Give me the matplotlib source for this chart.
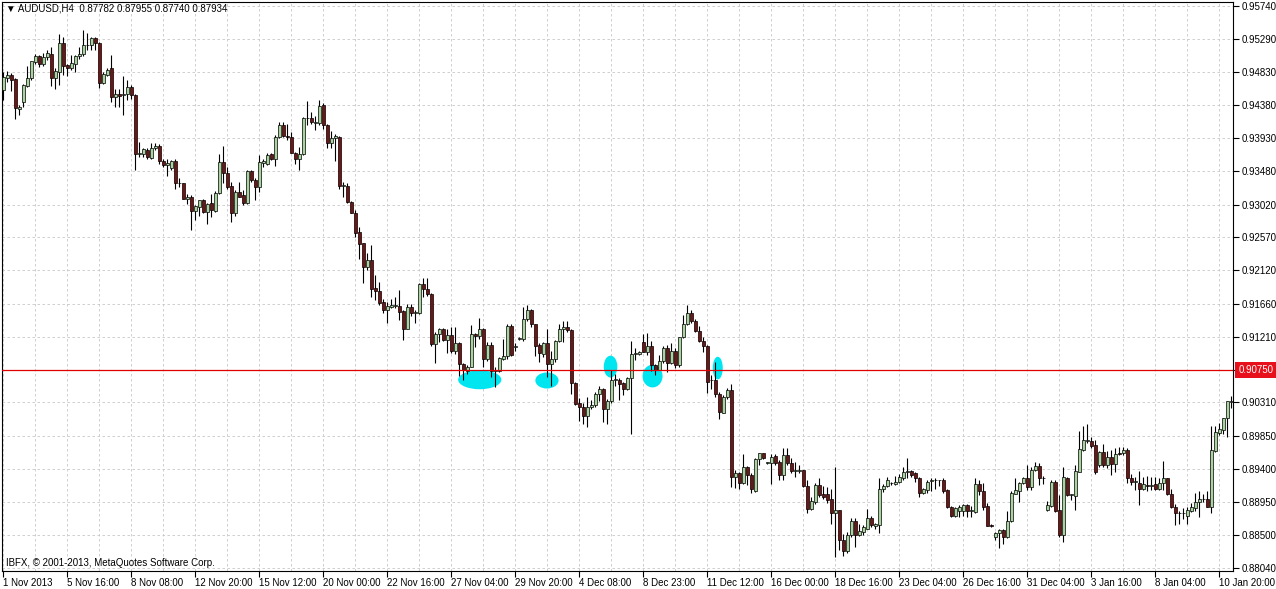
import matplotlib
matplotlib.use("Agg")
import matplotlib.pyplot as plt
from matplotlib.patches import Ellipse
from matplotlib.transforms import blended_transform_factory
import numpy as np

plt.rcParams['font.family'] = ['Liberation Sans', 'DejaVu Sans']

# AUDUSD H4 bars (one value per 4h bar)
opens = [
    .9459, .9476, .9479, .9474, .9433, .9443, .9464, .9476, .9497, .9505,
    .9494, .9504, .9508, .9476, .9483, .9524, .9493, .9489, .9495, .9505,
    .9508, .9520, .9521, .9530, .9523, .9469, .9479, .9489, .9449, .9453,
    .9452, .9453, .9463, .9452, .9371, .9371, .9377, .9366, .9379, .9382,
    .9361, .9356, .9352, .9362, .9331, .9332, .9310, .9313, .9293, .9299,
    .9308, .9292, .9304, .9293, .9318, .9360, .9345, .9327, .9291, .9319,
    .9315, .9304, .9348, .9336, .9326, .9359, .9358, .9371, .9365, .9395,
    .9411, .9396, .9395, .9373, .9364, .9371, .9420, .9420, .9414, .9414,
    .9438, .9411, .9387, .9393, .9395, .9327, .9327, .9306, .9291, .9265,
    .9249, .9216, .9226, .9188, .9184, .9169, .9158, .9162, .9163, .9163,
    .9156, .9132, .9162, .9153, .9154, .9193, .9187, .9180, .9111, .9124,
    .9132, .9117, .9123, .9102, .9113, .9083, .9074, .9080, .9124, .9122,
    .9132, .9090, .9109, .9074, .9074, .9091, .9094, .9135, .9107, .9118,
    .9118, .9145, .9157, .9138, .9109, .9097, .9112, .9083, .9090, .9115,
    .9131, .9134, .9130, .9058, .9030, .9024, .9013, .9024, .9028, .9042,
    .9050, .9022, .9033, .9062, .9062, .9057, .9049, .9065, .9097, .9097,
    .9114, .9100, .9108, .9082, .9076, .9088, .9105, .9085, .9102, .9082,
    .9120, .9138, .9153, .9143, .9129, .9115, .9108, .9061, .9062, .9043,
    .9017, .9039, .9048, .8929, .8934, .8920, .8942, .8931, .8910, .8953,
    .8961, .8948, .8948, .8957, .8950, .8931, .8959, .8948, .8937, .8937,
    .8938, .8916, .8885, .8895, .8918, .8906, .8905, .8899, .8879, .8883,
    .8842, .8828, .8849, .8869, .8849, .8854, .8858, .8873, .8861, .8863,
    .8912, .8916, .8920, .8919, .8922, .8928, .8936, .8937, .8934, .8928,
    .8907, .8911, .8923, .8924, .8925, .8924, .8911, .8888, .8876, .8882,
    .8882, .8890, .8882, .8881, .8919, .8909, .8889, .8863, .8847, .8852,
    .8856, .8847, .8869, .8906, .8910, .8920, .8928, .8915, .8939, .8944,
    .8928, .8883, .8889, .8922, .8883, .8850, .8928, .8904, .8903, .8936,
    .8966, .8978, .8978, .8973, .8945, .8963, .8945, .8956, .8947, .8961,
    .8961, .8966, .8927, .8922, .8920, .8913, .8918, .8917, .8919, .8912,
    .8921, .8927, .8905, .8887, .8880, .8879, .8876, .8882, .8886, .8894,
    .8898, .8899, .8888, .8965, .8989, .8993, .9009, .9032,
]
highs = [
    .9484, .9485, .9482, .9475, .9438, .9467, .9492, .9499, .9508, .9507,
    .9510, .9514, .9518, .9489, .9535, .9532, .9495, .9507, .9507, .9518,
    .9541, .9537, .9531, .9531, .9525, .9484, .9489, .9507, .9460, .9460,
    .9478, .9473, .9466, .9453, .9388, .9379, .9379, .9387, .9387, .9385,
    .9364, .9364, .9363, .9364, .9338, .9332, .9316, .9315, .9302, .9308,
    .9310, .9304, .9316, .9320, .9371, .9382, .9354, .9333, .9322, .9333,
    .9322, .9349, .9349, .9338, .9370, .9364, .9372, .9373, .9397, .9415,
    .9415, .9413, .9402, .9374, .9381, .9422, .9444, .9429, .9424, .9445,
    .9441, .9413, .9403, .9399, .9396, .9333, .9331, .9307, .9294, .9271,
    .9250, .9235, .9246, .9205, .9196, .9173, .9169, .9173, .9176, .9185,
    .9157, .9166, .9166, .9158, .9195, .9201, .9202, .9181, .9128, .9133,
    .9133, .9132, .9134, .9134, .9114, .9085, .9082, .9137, .9126, .9147,
    .9133, .9114, .9114, .9080, .9093, .9118, .9138, .9138, .9112, .9120,
    .9162, .9165, .9159, .9139, .9112, .9114, .9132, .9102, .9117, .9139,
    .9143, .9143, .9131, .9059, .9037, .9030, .9038, .9034, .9045, .9053,
    .9051, .9036, .9075, .9070, .9064, .9059, .9066, .9115, .9105, .9102,
    .9125, .9126, .9115, .9084, .9096, .9108, .9110, .9112, .9105, .9121,
    .9151, .9164, .9158, .9145, .9135, .9121, .9110, .9068, .9087, .9045,
    .9041, .9051, .9056, .8939, .8936, .8960, .8944, .8934, .8955, .8962,
    .8962, .8950, .8960, .8960, .8952, .8968, .8968, .8955, .8950, .8945,
    .8939, .8924, .8901, .8920, .8927, .8916, .8915, .8913, .8942, .8884,
    .8851, .8854, .8872, .8872, .8865, .8863, .8885, .8875, .8866, .8928,
    .8919, .8929, .8922, .8930, .8933, .8943, .8955, .8939, .8936, .8929,
    .8914, .8924, .8927, .8927, .8925, .8927, .8912, .8889, .8888, .8890,
    .8892, .8892, .8889, .8927, .8924, .8920, .8893, .8865, .8854, .8858,
    .8858, .8882, .8909, .8927, .8922, .8929, .8945, .8942, .8950, .8948,
    .8930, .8896, .8924, .8924, .8904, .8942, .8929, .8906, .8945, .8992,
    .8998, .9002, .8983, .8980, .8965, .8974, .8965, .8966, .8968, .8970,
    .8970, .8968, .8933, .8929, .8937, .8929, .8930, .8929, .8929, .8928,
    .8951, .8928, .8913, .8892, .8882, .8886, .8888, .8893, .8907, .8909,
    .8906, .8909, .8998, .8998, .9003, .9010, .9033, .9040,
]
lows = [
    .9445, .9470, .9457, .9419, .9425, .9435, .9463, .9473, .9494, .9491,
    .9492, .9500, .9464, .9460, .9466, .9479, .9478, .9486, .9483, .9502,
    .9505, .9514, .9514, .9514, .9462, .9467, .9478, .9443, .9436, .9435,
    .9425, .9445, .9446, .9349, .9367, .9367, .9365, .9365, .9377, .9358,
    .9354, .9341, .9349, .9323, .9326, .9309, .9303, .9267, .9281, .9287,
    .9290, .9276, .9285, .9292, .9317, .9332, .9324, .9278, .9286, .9312,
    .9302, .9303, .9333, .9308, .9319, .9354, .9356, .9363, .9355, .9393,
    .9394, .9390, .9372, .9358, .9349, .9370, .9411, .9413, .9404, .9411,
    .9406, .9379, .9379, .9362, .9324, .9313, .9304, .9290, .9258, .9228,
    .9195, .9212, .9176, .9171, .9164, .9153, .9140, .9160, .9160, .9144,
    .9117, .9131, .9149, .9140, .9152, .9176, .9177, .9108, .9085, .9114,
    .9115, .9099, .9098, .9097, .9067, .9062, .9070, .9079, .9107, .9118,
    .9080, .9088, .9066, .9052, .9073, .9089, .9091, .9094, .9102, .9116,
    .9115, .9143, .9134, .9094, .9086, .9093, .9066, .9054, .9086, .9114,
    .9114, .9128, .9043, .9028, .9006, .9002, .8997, .9022, .9024, .9033,
    .9004, .9002, .9030, .9054, .9034, .9041, .9048, .8988, .9089, .9096,
    .9100, .9096, .9074, .9068, .9075, .9085, .9073, .9083, .9078, .9080,
    .9119, .9137, .9140, .9128, .9114, .9100, .9044, .9050, .9039, .9008,
    .9016, .9036, .8915, .8914, .8912, .8919, .8918, .8907, .8908, .8945,
    .8954, .8946, .8919, .8945, .8925, .8925, .8945, .8934, .8929, .8934,
    .8915, .8880, .8883, .8892, .8901, .8899, .8893, .8865, .8819, .8829,
    .8820, .8825, .8846, .8833, .8848, .8850, .8857, .8860, .8858, .8852,
    .8908, .8915, .8918, .8918, .8920, .8925, .8928, .8929, .8922, .8902,
    .8905, .8907, .8909, .8913, .8916, .8907, .8886, .8874, .8874, .8874,
    .8876, .8874, .8874, .8880, .8904, .8883, .8861, .8860, .8843, .8831,
    .8837, .8845, .8867, .8906, .8895, .8919, .8911, .8911, .8937, .8918,
    .8919, .8882, .8888, .8881, .8847, .8840, .8903, .8897, .8883, .8935,
    .8965, .8976, .8968, .8933, .8942, .8942, .8941, .8931, .8936, .8959,
    .8959, .8921, .8918, .8911, .8890, .8911, .8909, .8911, .8911, .8911,
    .8911, .8904, .8886, .8863, .8865, .8871, .8864, .8881, .8882, .8874,
    .8895, .8887, .8879, .8963, .8986, .8988, .8984, .9023,
]
closes = [
    .9477, .9479, .9473, .9434, .9435, .9466, .9476, .9498, .9505, .9494,
    .9504, .9509, .9476, .9485, .9524, .9492, .9489, .9496, .9505, .9508,
    .9521, .9521, .9530, .9523, .9469, .9481, .9487, .9449, .9454, .9451,
    .9453, .9463, .9452, .9371, .9373, .9378, .9367, .9379, .9382, .9361,
    .9356, .9359, .9361, .9331, .9332, .9310, .9312, .9293, .9300, .9308,
    .9292, .9303, .9294, .9318, .9360, .9345, .9326, .9291, .9319, .9313,
    .9304, .9348, .9335, .9326, .9360, .9361, .9370, .9365, .9395, .9411,
    .9396, .9394, .9373, .9364, .9371, .9420, .9421, .9415, .9415, .9437,
    .9411, .9387, .9393, .9396, .9327, .9329, .9306, .9291, .9263, .9248,
    .9216, .9226, .9187, .9184, .9167, .9158, .9163, .9164, .9164, .9155,
    .9132, .9161, .9154, .9155, .9193, .9187, .9180, .9111, .9124, .9132,
    .9117, .9123, .9102, .9113, .9083, .9075, .9080, .9124, .9122, .9132,
    .9090, .9109, .9074, .9075, .9092, .9094, .9135, .9096, .9108, .9119,
    .9145, .9157, .9138, .9108, .9098, .9112, .9083, .9090, .9115, .9131,
    .9134, .9130, .9058, .9029, .9024, .9013, .9024, .9028, .9042, .9050,
    .9022, .9033, .9062, .9063, .9056, .9049, .9065, .9097, .9098, .9100,
    .9100, .9108, .9082, .9075, .9088, .9105, .9085, .9102, .9082, .9120,
    .9138, .9153, .9143, .9129, .9115, .9108, .9059, .9062, .9042, .9018,
    .9039, .9048, .8929, .8934, .8920, .8942, .8931, .8912, .8953, .8961,
    .8955, .8949, .8956, .8948, .8931, .8959, .8948, .8937, .8938, .8938,
    .8916, .8885, .8896, .8918, .8904, .8902, .8897, .8879, .8883, .8842,
    .8828, .8849, .8869, .8849, .8855, .8860, .8873, .8863, .8864, .8912,
    .8916, .8924, .8921, .8922, .8929, .8936, .8937, .8931, .8928, .8907,
    .8912, .8922, .8924, .8925, .8924, .8909, .8887, .8876, .8886, .8888,
    .8890, .8882, .8883, .8919, .8909, .8888, .8862, .8862, .8852, .8856,
    .8847, .8869, .8907, .8911, .8920, .8928, .8915, .8939, .8944, .8928,
    .8927, .8890, .8922, .8882, .8850, .8929, .8904, .8905, .8937, .8967,
    .8979, .8979, .8971, .8936, .8963, .8945, .8956, .8947, .8960, .8960,
    .8966, .8927, .8922, .8923, .8913, .8919, .8917, .8918, .8913, .8921,
    .8927, .8905, .8887, .8880, .8879, .8880, .8884, .8887, .8895, .8898,
    .8899, .8888, .8966, .8991, .8994, .9009, .9033, .9033,
]

date_labels = ["1 Nov 2013", "5 Nov 16:00", "8 Nov 08:00", "12 Nov 20:00",
               "15 Nov 12:00", "20 Nov 00:00", "22 Nov 16:00", "27 Nov 04:00",
               "29 Nov 20:00", "4 Dec 08:00", "8 Dec 23:00", "11 Dec 12:00",
               "16 Dec 00:00", "18 Dec 16:00", "23 Dec 04:00", "26 Dec 16:00",
               "31 Dec 04:00", "3 Jan 16:00", "8 Jan 04:00", "10 Jan 20:00"]
price_labels = ["0.95740", "0.95290", "0.94830", "0.94380", "0.93930", "0.93480",
                "0.93020", "0.92570", "0.92120", "0.91660", "0.91210", "0.90750",
                "0.90310", "0.89850", "0.89400", "0.88950", "0.88500", "0.88040"]
level = 0.90750

# hand drawn highlights: bar centre, price centre, width (bars), height (price)
mark_x = [119.1, 135.9, 151.8, 162.3, 178.6]
mark_y = [0.9062, 0.9061, 0.9080, 0.9067, 0.9078]
mark_w = [10.8, 5.8, 3.4, 5.0, 2.5]
mark_h = [0.0026, 0.0022, 0.0030, 0.0031, 0.0031]

o = np.array(opens); h = np.array(highs); l = np.array(lows); c = np.array(closes)
x = np.arange(len(o))
up = c >= o

fig = plt.figure(figsize=(12.76, 5.89), dpi=100)
ax = fig.add_axes([2/1276, 18/589, 1231/1276, 569/589])

for mx, my, mw, mh in zip(mark_x, mark_y, mark_w, mark_h):
    ax.add_patch(Ellipse((mx, my), mw, mh, color='#00e6f0', lw=0, zorder=2))

ax.vlines(x, l, h, color='black', lw=0.8, zorder=3)
body = np.maximum(np.abs(c - o), 0.00003)
ax.bar(x, body, bottom=np.minimum(o, c), width=0.62,
       color=np.where(up, '#a8d4a0', '#701414'), edgecolor='black',
       linewidth=0.5, zorder=4)

ax.axhline(level, color='#e00000', lw=0.9, zorder=5)

ax.set_xlim(-0.33, 307.4)
ax.set_ylim(0.88000, 0.95795)

ax.set_xticks(np.arange(0, 16 * len(date_labels), 16))
ax.set_xticklabels(date_labels)
ax.set_xticks(np.arange(0, 308, 8), minor=True)
for t in ax.get_xticklabels():
    t.set_ha('left')
ax.tick_params(axis='x', which='major', length=4, labelsize=7, pad=1)
ax.tick_params(axis='x', which='minor', length=0)

# the level's own tick label sits under the red price box
ax.yaxis.tick_right()
ax.set_yticks([float(v) for v in price_labels])
ax.set_yticklabels(["" if float(v) == level else v for v in price_labels])
ax.tick_params(axis='y', length=4, labelsize=7, pad=2)

ax.grid(True, which='both', color='#c8c8c8', linestyle=(0, (3, 3)), lw=0.6)
ax.set_axisbelow(True)
for s in ax.spines.values():
    s.set_color('black')
    s.set_linewidth(0.8)

tr = blended_transform_factory(ax.transAxes, ax.transData)
ax.text(1.0045, level, "%.5f" % level, transform=tr, ha='left', va='center',
        color='white', fontsize=7, clip_on=False, zorder=10,
        bbox=dict(boxstyle='square,pad=0.32', fc='#e8101a', ec='none'))

ax.text(0.003, 0.988, "\u25bc AUDUSD,H4  0.87782 0.87955 0.87740 0.87934",
        transform=ax.transAxes, fontsize=7, va='center', ha='left')
ax.text(0.003, 0.014, "IBFX, \u00a9 2001-2013, MetaQuotes Software Corp.",
        transform=ax.transAxes, fontsize=7, va='center', ha='left')

fig.savefig("out.png", dpi=100)
